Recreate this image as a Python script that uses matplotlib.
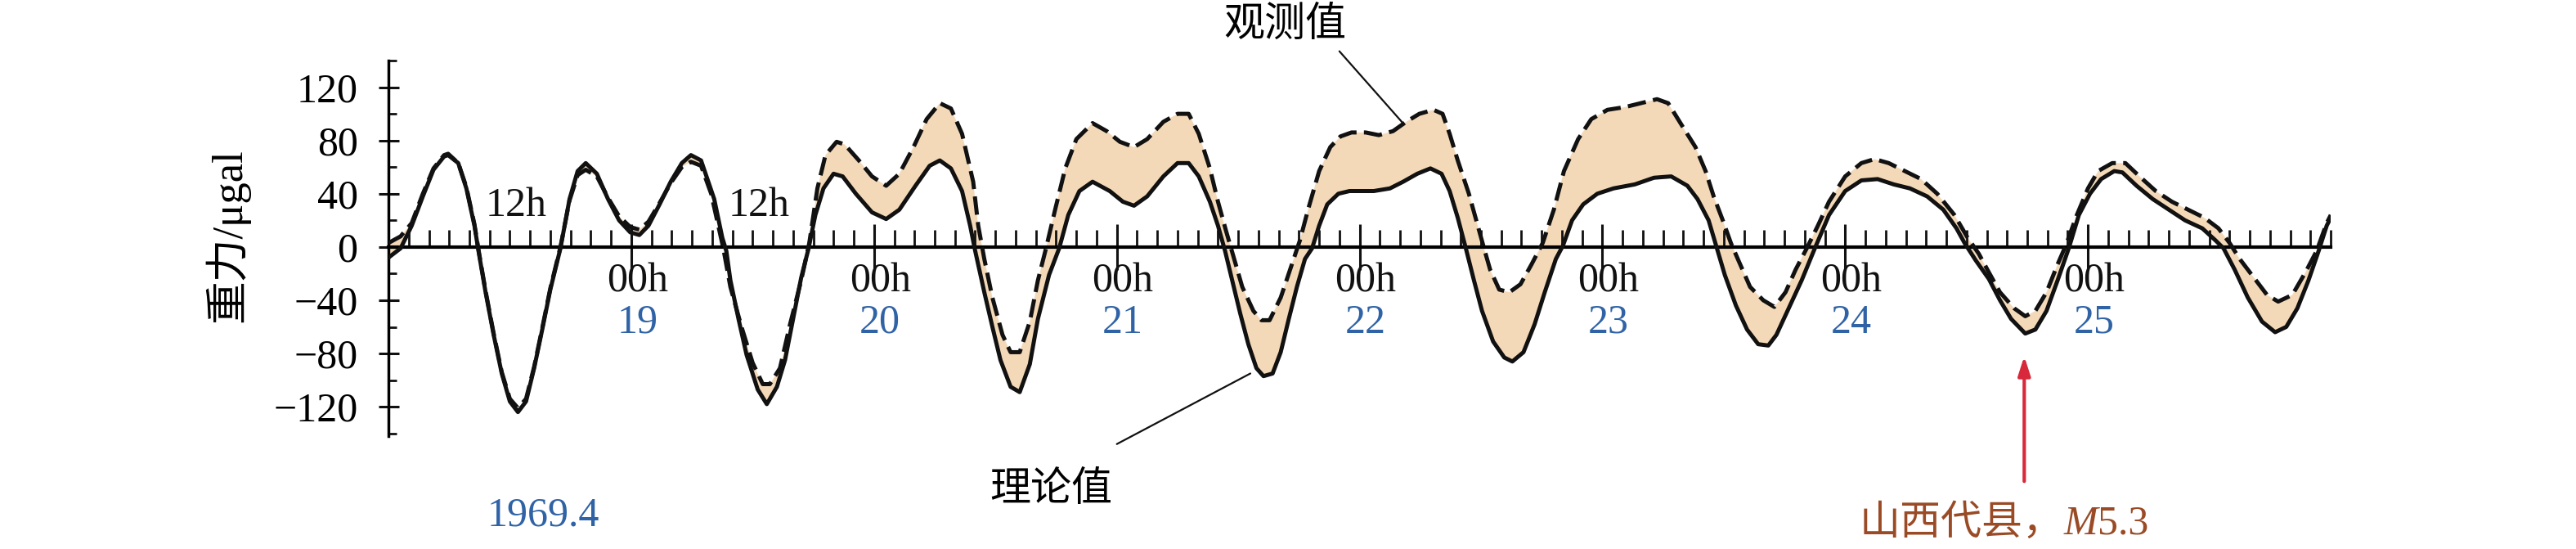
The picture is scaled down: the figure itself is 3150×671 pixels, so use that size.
import numpy as np
import matplotlib
matplotlib.use("Agg")
import matplotlib.pyplot as plt
from matplotlib.ticker import MultipleLocator, FixedLocator
from matplotlib.offsetbox import TextArea, HPacker, AnnotationBbox

plt.rcParams["font.family"] = ["Liberation Serif", "Noto Sans CJK SC"]

# hours counted from 1969-04-18 00h, gravity in microgal
theory_h = [0, 1.2, 2.3, 3.4, 4.45, 5.5, 5.9, 6.9, 7.7, 8.5, 8.9, 9.6, 10.4, 11.2, 12.0, 12.8,
            13.6, 14.4, 15.2, 16.0, 17.0, 17.9, 18.7, 19.5, 20.6, 21.7, 22.8, 23.9, 24.8, 25.7,
            26.8, 27.9, 29.0, 29.9, 30.9, 32.2, 33.0, 33.4, 33.8, 34.6, 35.4, 36.5, 37.4, 38.4,
            39.2, 40.0, 40.8, 41.5, 42.2, 43.0, 44.0, 44.9, 46.2, 47.8, 49.2, 50.5, 52.1, 53.5,
            54.5, 55.6, 56.7, 57.5, 58.0, 58.9, 59.7, 60.5, 61.5, 62.4, 63.4, 64.2, 65.3, 66.3,
            67.2, 68.3, 69.6, 71.3, 72.6, 73.7, 75.0, 76.6, 78.0, 79.1, 80.1, 81.2, 82.0, 82.7,
            83.4, 84.2, 85.0, 85.8, 86.5, 87.4, 88.2, 89.0, 89.8, 90.6, 91.3, 92.0, 92.8, 93.9,
            95.0, 97.4, 99.0, 100.3, 101.7, 103.0, 104.1, 104.9, 105.7, 106.5, 107.3, 108.1,
            109.2, 110.3, 111.1, 112.2, 113.3, 114.3, 115.4, 116.1, 117.0, 118.1, 119.5, 121.1,
            123.2, 125.1, 126.8, 128.4, 129.4, 130.5, 131.2, 132.1, 133.2, 134.3, 135.4, 136.4,
            137.2, 138.3, 139.7, 141.0, 142.4, 144.0, 145.6, 147.2, 148.8, 150.4, 152.1, 153.7,
            155.0, 155.8, 156.9, 158.2, 159.3, 160.4, 161.8, 162.8, 163.9, 165.0, 166.1, 167.1,
            168.2, 169.3, 170.6, 171.4, 172.8, 174.4, 176.0, 177.6, 179.3, 180.6, 181.4, 182.5,
            183.8, 185.2, 186.5, 187.6, 188.7, 189.8, 190.8, 191.6, 192.0]
theory_v = [-8, -1, 16, 38, 58, 68, 69, 63, 44, 16, -3, -34, -66, -95, -116, -124,
            -116, -91, -62, -32, -1, 36, 57, 63, 55, 36, 20, 11, 9, 16,
            32, 49, 63, 69, 65, 36, 7, -3, -25, -54, -81, -107, -118, -105,
            -85, -54, -23, -2, 24, 44, 55, 53, 40, 26, 21, 28, 46, 61,
            65, 59, 42, 16, -3, -34, -60, -85, -105, -109, -88, -54, -21, -1,
            24, 42, 49, 42, 34, 31, 38, 53, 63, 63, 53, 34, 16, -3,
            -25, -50, -73, -91, -97, -95, -79, -54, -30, -9, -1, 16, 32, 40,
            42, 42, 44, 49, 55, 59, 55, 42, 22, -1, -25, -48,
            -71, -83, -86, -79, -58, -34, -9, 1, 20, 32, 40, 44,
            47, 52, 53, 46, 36, 20, 2, -21, -44, -62, -73, -74,
            -66, -48, -25, -1, 24, 42, 50, 51, 47, 44, 38, 28,
            14, 3, -10, -24, -40, -54, -65, -62, -48, -25, -1, 24,
            40, 51, 57, 56, 46, 36, 28, 20, 14, 5, -1, -17,
            -38, -56, -64, -60, -46, -25, -3, 16, 22]

obs_h = [0, 1.2, 2.3, 3.4, 4.45, 5.5, 5.9, 6.9, 7.7, 8.5, 8.9, 9.6, 10.4, 11.2, 12.0, 12.8,
         13.6, 14.4, 15.2, 16.0, 17.0, 17.9, 18.7, 19.5, 20.6, 21.7, 22.8, 23.9, 24.8, 25.7,
         26.8, 27.9, 29.0, 29.9, 30.9, 31.9, 33.1, 33.8, 34.9, 36.0, 37.0, 37.7, 38.7, 39.7,
         40.8, 41.6, 42.4, 43.2, 44.3, 45.1, 46.5, 47.8, 49.2, 50.5, 51.9, 53.2, 54.5, 55.6,
         56.7, 57.8, 58.3, 58.9, 59.7, 60.7, 61.5, 62.4, 63.4, 64.2, 65.0, 65.9, 66.9, 68.0,
         69.6, 71.0, 72.3, 73.7, 75.0, 76.6, 78.0, 79.1, 80.1, 81.2, 82.0, 82.8, 83.6, 84.4,
         85.5, 86.3, 87.1, 88.2, 89.3, 90.1, 90.9, 92.0, 93.1, 94.1, 95.2, 96.6, 97.9, 99.3,
         100.6, 101.9, 103.3, 104.2, 104.9, 105.7, 106.8, 107.6, 108.3, 108.9, 109.8, 110.8,
         111.9, 113.0, 114.1, 115.2, 116.2, 117.6, 118.9, 120.5, 122.2, 123.8, 125.4, 126.5,
         127.8, 129.2, 130.2, 131.0, 131.9, 132.7, 133.5, 134.6, 135.9, 137.0, 138.1, 139.1,
         140.2, 141.3, 142.4, 144.0, 145.6, 146.9, 148.3, 149.9, 151.5, 153.1, 154.8, 156.1,
         157.2, 158.2, 159.3, 160.7, 161.8, 162.8, 163.9, 165.0, 165.8, 166.9, 168.0, 169.0,
         170.4, 171.7, 173.1, 174.7, 176.3, 177.9, 179.5, 180.9, 182.0, 183.0, 184.4, 185.7,
         186.8, 188.2, 189.5, 190.6, 191.6, 192.0]
obs_v = [3, 8, 18, 40, 59, 69, 70, 63, 45, 17, -2, -33, -65, -94, -114, -121,
         -114, -90, -61, -31, 0, 35, 54, 58, 53, 37, 23, 15, 13, 19,
         33, 48, 60, 64, 61, 40, -1, -30, -60, -87, -103, -103, -91, -58,
         -25, 3, 44, 69, 79, 77, 65, 53, 46, 55, 75, 96, 108, 104,
         85, 49, 16, -9, -38, -66, -79, -79, -56, -25, -1, 28, 59, 81,
         93, 87, 79, 75, 81, 94, 100, 100, 85, 59, 34, 12, -9, -30,
         -48, -55, -55, -38, -13, 5, 28, 57, 75, 83, 86, 86, 84, 87,
         94, 100, 103, 100, 85, 65, 40, 18, -1, -17, -32, -34,
         -28, -13, 3, 28, 57, 81, 96, 103, 105, 108, 111, 108,
         92, 75, 57, 38, 20, 3, -11, -30, -40, -45, -34, -17,
         -1, 16, 34, 53, 63, 66, 63, 57, 51, 40, 24, 7,
         -5, -19, -34, -46, -52, -48, -34, -13, 1, 24, 44, 57,
         63, 63, 53, 42, 34, 28, 22, 14, 3, -9, -23, -36,
         -41, -36, -19, -3, 18, 24]

days = [19, 20, 21, 22, 23, 24, 25]
day_hours = [24, 48, 72, 96, 120, 144, 168]
noon_hours = [12, 36]

black = "#111111"
blue = "#2f63a6"
brown = "#9a4b26"
red = "#d8283b"
peach = "#f4d9b9"
fs = 36

fig = plt.figure(figsize=(31.5, 6.71), dpi=100)
ax = fig.add_axes([0.1508, 0.2057, 0.754, 0.684])

ax.fill(np.concatenate([theory_h, obs_h[::-1]]), np.concatenate([theory_v, obs_v[::-1]]),
        color=peach, lw=0, zorder=1)
ax.plot(theory_h, theory_v, color=black, lw=3.6, zorder=3, solid_joinstyle="round")
ax.plot(obs_h, obs_v, color=black, lw=3.6, ls=(0, (4.5, 1.8)), zorder=3,
        dash_joinstyle="round")

ax.set_xlim(0, 192)
ax.set_ylim(-142, 140)

for s in ["top", "right"]:
    ax.spines[s].set_visible(False)
ax.spines["bottom"].set_position(("data", 0))
ax.spines["bottom"].set_linewidth(3)
ax.spines["left"].set_linewidth(2.5)
ax.spines["bottom"].set_zorder(2)

ax.xaxis.set_major_locator(FixedLocator(day_hours))
ax.xaxis.set_minor_locator(MultipleLocator(2))
ax.tick_params(axis="x", which="major", direction="inout", length=40, width=2.2,
               labelbottom=False, color=black)
ax.tick_params(axis="x", which="minor", direction="in", length=15, width=2, color=black)

ax.set_yticks([-120, -80, -40, 0, 40, 80, 120])
ax.yaxis.set_minor_locator(MultipleLocator(20))
ax.set_yticklabels(["\u2212120", "\u221280", "\u221240", "0", "40", "80", "120"])
ax.tick_params(axis="y", which="major", direction="inout", length=18, width=2.2,
               pad=18, labelsize=fs, color=black)
ax.tick_params(axis="y", which="minor", direction="in", length=7, width=2, color=black)

fig.text(0.088, 0.572, "重力/μgal", rotation=90, fontsize=38, ha="center", va="center")

for d, h in zip(days, day_hours):
    ax.text(h + 0.6, -26, "00h", fontsize=fs, ha="center", va="center", color=black)
    ax.text(h + 0.6, -57, str(d), fontsize=fs, ha="center", va="center", color=blue)
for h in noon_hours:
    ax.text(h + 0.6, 31, "12h", fontsize=fs, ha="center", va="center", color=black)

ax.text(15.3, -202, "1969.4", fontsize=fs, ha="center", va="center", color=blue, clip_on=False)

ax.text(88.6, 166, "观测值", fontsize=fs, ha="center", va="center", clip_on=False)
ax.annotate("", xy=(100.4, 92), xytext=(94.0, 147), annotation_clip=False,
            arrowprops=dict(arrowstyle="-", color=black, lw=1.6, shrinkA=0, shrinkB=0))
ax.text(65.5, -183, "理论值", fontsize=fs, ha="center", va="center", clip_on=False)
ax.annotate("", xy=(85.2, -95), xytext=(72.0, -148), annotation_clip=False,
            arrowprops=dict(arrowstyle="-", color=black, lw=1.6, shrinkA=0, shrinkB=0))

ax.annotate("", xy=(161.7, -82), xytext=(161.7, -176), annotation_clip=False,
            arrowprops=dict(arrowstyle="-|>,head_length=1.4,head_width=0.45", color=red,
                            lw=3, shrinkA=0, shrinkB=0))

parts = [TextArea("山西代县，", textprops=dict(color=brown, fontsize=fs)),
         TextArea("M", textprops=dict(color=brown, fontsize=fs, style="italic")),
         TextArea("5.3", textprops=dict(color=brown, fontsize=fs))]
box = HPacker(children=parts, align="baseline", pad=0, sep=0)
ab = AnnotationBbox(box, (159.7, -208), xycoords="data", frameon=False,
                    box_alignment=(0.5, 0.5), annotation_clip=False)
ax.add_artist(ab)

fig.savefig("out.png", dpi=100)
